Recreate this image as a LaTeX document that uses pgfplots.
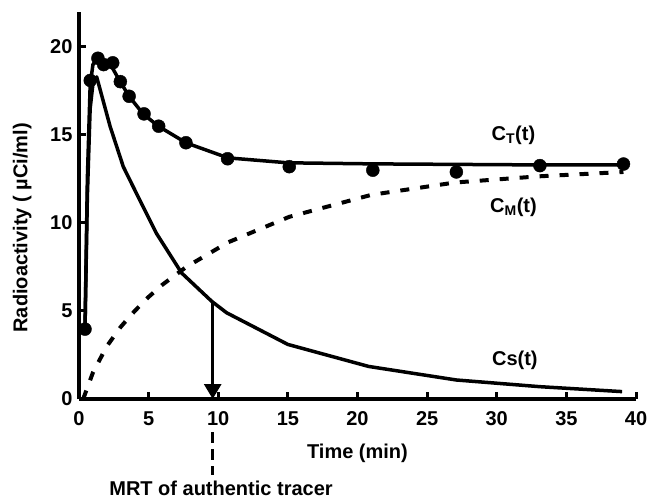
\documentclass[border=0pt]{standalone}
\usepackage{fontspec}
\setmainfont{Liberation Sans}
\usepackage{pgfplots}
\pgfplotsset{compat=1.18}
\usetikzlibrary{arrows.meta}
\newcommand\lab{\bfseries\fontsize{20}{24}\selectfont}

\begin{document}
\begin{tikzpicture}
\begin{axis}[
  at={(0,0)}, anchor=south west,
  scale only axis, width=557pt, height=387.2pt,
  xmin=0, xmax=40, ymin=0, ymax=22,
  axis x line*=bottom, axis y line*=left,
  axis line style={line width=4.5pt},
  x axis line style={-}, y axis line style={-},
  xtick={0,5,...,40}, ytick={0,5,...,20},
  tick align=inside, major tick length=7pt,
  tick style={line width=3pt, black},
  tick label style={font=\lab},
  xticklabel style={yshift=-9pt},
  yticklabel style={xshift=-3pt},
  /pgf/number format/assume math mode=true,
  xlabel={Time (min)}, ylabel={Radioactivity ( µCi/ml)},
  label style={font=\lab},
  xlabel style={at={(axis description cs:0.5,-0.1395)}, anchor=center},
  ylabel style={at={(axis description cs:-0.102,0.442)}, anchor=center},
  clip=false,
]
% C_T(t) fitted
\addplot[black, line width=3.5pt, line join=round] coordinates {
 (0.43,3.9) (0.6,12.5) (0.8,17.8) (1.0,19.0) (1.35,19.4) (1.8,19.2) (2.2,19.1)
 (2.9,18.1) (3.6,17.2) (4.6,16.2) (5.7,15.5) (7.7,14.55) (10.7,13.7)
 (15,13.42) (21,13.36) (27,13.33) (33,13.3) (39.1,13.3)};
% C_T(t) measured
\addplot[only marks, mark=*, mark size=6.5pt, black] coordinates {
 (0.43,3.97) (0.81,18.1) (1.36,19.36) (1.77,19.0) (2.42,19.1) (2.97,18.03)
 (3.6,17.2) (4.67,16.2) (5.72,15.5) (7.68,14.56) (10.67,13.65) (15.1,13.2)
 (21.1,13.0) (27.1,12.9) (33.1,13.26) (39.1,13.35)};
% Cs(t)
\addplot[black, line width=3.5pt, line join=round] coordinates {
 (0.43,3.9) (0.6,11.5) (0.8,16.5) (1.0,17.9) (1.27,18.3) (2.23,15.5) (3.18,13.2)
 (4.49,11.1) (5.57,9.4) (7.37,7.16) (9.53,5.55) (10.6,4.9) (15.0,3.1)
 (20.8,1.85) (27.1,1.08) (33.1,0.7) (39,0.42)};
% C_M(t)
\addplot[black, line width=4pt, dash pattern=on 9pt off 11pt] coordinates {
 (0.3,0) (1,1.5) (2,3.0) (3,4.1) (4,5.0) (5,5.8) (6,6.5) (7.7,7.5) (10.7,8.9)
 (15.1,10.35) (21,11.6) (27,12.3) (33,12.65) (39.1,12.9)};
\draw[line width=3pt, -{Triangle[width=17pt,length=15pt]}] (axis cs:9.6,5.45) -- (axis cs:9.6,0);
\draw[line width=3pt, dash pattern=on 11pt off 6pt] (axis cs:9.6,-1.875) -- (axis cs:9.6,-4.32);
\node[font=\lab, anchor=base] at (axis cs:10.2,-5.5) {MRT of authentic tracer};
\node[font=\lab] at (axis cs:31.2,15.0) {C\textsubscript{T}(t)};
\node[font=\lab] at (axis cs:31.2,10.9) {C\textsubscript{M}(t)};
\node[font=\lab] at (axis cs:31.3,2.2) {Cs(t)};
\end{axis}
\pgfresetboundingbox
\path (-79pt,-101pt) rectangle (568pt,399pt);
\end{tikzpicture}
\end{document}
